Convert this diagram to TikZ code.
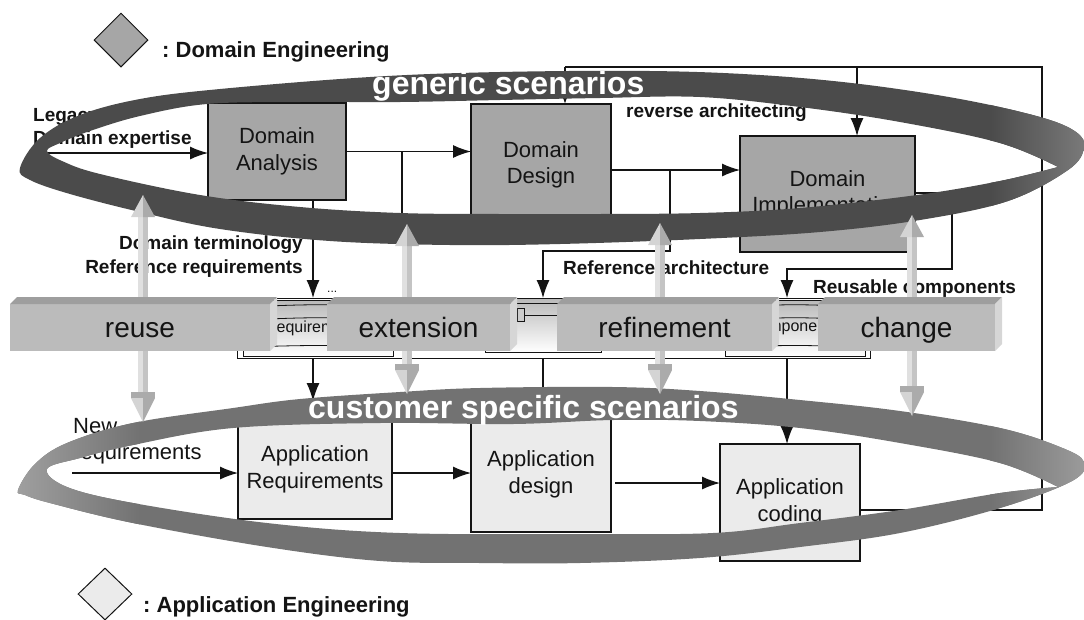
\documentclass[tikz,border=0pt]{standalone}
\usepackage{fontspec}
\setmainfont{Liberation Sans}
\frenchspacing
\usetikzlibrary{arrows.meta,shapes.geometric,calc}
\definecolor{domgray}{HTML}{A6A6A6}
\definecolor{appgray}{HTML}{EBEBEB}
\definecolor{ringA}{HTML}{4B4B4B}
\definecolor{ringAl}{HTML}{7A7A7A}
\definecolor{ringB}{HTML}{727272}
\definecolor{ringBl}{HTML}{A0A0A0}
\definecolor{barfr}{HTML}{BBBBBB}
\definecolor{bartp}{HTML}{9E9E9E}
\definecolor{barsd}{HTML}{D6D6D6}
\definecolor{shL}{HTML}{E0E0E0}
\definecolor{shR}{HTML}{C4C4C4}
\definecolor{hdL}{HTML}{D4D4D4}
\definecolor{hdR}{HTML}{ABABAB}
\definecolor{ink}{HTML}{141414}
\newcommand\grayarrow[3]{%
  \fill[shL] (#1-5,#2+20) rectangle (#1,#3-22);
  \fill[shR] (#1,#2+20) rectangle (#1+5,#3-22);
  \fill[hdL] (#1,#2) -- (#1-12,#2+22) -- (#1,#2+22) -- cycle;
  \fill[hdR] (#1,#2) -- (#1+12,#2+22) -- (#1,#2+22) -- cycle;
  \fill[hdR] (#1-12,#3-30) -- (#1+12,#3-30) -- (#1+12,#3-24) -- (#1-12,#3-24) -- cycle;
  \fill[hdL] (#1,#3) -- (#1-12,#3-24) -- (#1,#3-24) -- cycle;
  \fill[hdR] (#1,#3) -- (#1+12,#3-24) -- (#1,#3-24) -- cycle;
}
\newcommand\solidbar[4]{%
  \node[barfront, minimum width=#3pt] (#1) at (#2,327.5) {#4};
  \fill[bartp] (#1.north west) -- ++(7,-7) -- ($(#1.north east)+(7,-7)$) -- (#1.north east) -- cycle;
  \fill[barsd] (#1.north east) -- ++(7,-7) -- ++(0,47) -- (#1.south east) -- cycle;
}
\newcommand\ringApath{plot[smooth cycle, tension=0.6] coordinates {(20,168) (40,138) (80,115) (140,99) (220,89) (370,77) (500,72) (650,71) (760,75) (860,84) (960,99) (1040,117) (1076,132) (1084,148) (1068,170) (1008,201) (920,220) (820,232) (700,239) (560,244) (450,245) (330,241) (220,229) (140,212) (70,194) (30,180)}
  plot[smooth, tension=0.6] coordinates {(1058,167) (1000,143) (900,122) (800,107) (700,97) (600,98) (500,100) (400,102) (300,102) (207,104) (140,116) (90,131) (60,143) (47,151) (62,161) (100,174) (200,195) (300,207) (400,213) (500,214) (600,214) (700,213) (800,208) (917,195) (1000,181) (1058,167)} -- cycle}
\newcommand\ringBpath{plot[smooth cycle, tension=0.6] coordinates {(18,490) (35,464) (67,443) (133,423) (233,408) (300,399) (400,392) (480,388) (613,387) (700,391) (800,400) (900,411) (1000,428) (1060,447) (1084,462) (1072,481) (1000,508) (900,533) (800,547) (700,558) (580,563) (480,563) (380,561) (267,547) (133,523) (50,503) (25,495)}
  plot[smooth, tension=0.6] coordinates {(1058,487) (1000,463) (900,443) (800,428) (700,421) (613,420) (513,424) (380,423) (233,428) (133,445) (80,458) (47,469) (67,487) (133,503) (267,523) (400,533) (580,534) (713,533) (800,523) (900,510) (1000,493) (1058,487)} -- cycle}
\begin{document}
\begin{tikzpicture}[x=1pt,y=-1pt,
  box/.style={draw=ink, line width=1.2pt, inner sep=0pt, outer sep=0pt, align=center,
    text=ink, font=\fontsize{22}{26.5}\selectfont},
  dombox/.style={box, fill=domgray},
  appbox/.style={box, fill=appgray},
  conn/.style={line width=1.2pt, draw=ink},
  arr/.style={conn, -{Latex[length=18pt,width=13pt]}},
  smallarr/.style={conn, -{Latex[length=8pt,width=6pt]}},
  lbl/.style={inner sep=0pt, text=ink, font=\fontsize{19}{22}\selectfont\bfseries},
  reg/.style={inner sep=0pt, text=ink, font=\fontsize{22}{26}\selectfont},
  legtxt/.style={inner sep=0pt, text=ink, font=\fontsize{22}{26}\selectfont\bfseries},
  ringtxt/.style={inner sep=0pt, text=white, font=\fontsize{32}{34}\selectfont\bfseries},
  barfront/.style={fill=barfr, inner sep=0pt, outer sep=0pt, minimum height=47pt,
    text height=22pt, text depth=3pt, text=ink, font=\fontsize{28}{30}\selectfont},
  repoitem/.style={draw=ink, line width=0.8pt, top color=gray!55, bottom color=white,
    inner sep=0pt, outer sep=0pt, text=ink, font=\fontsize{16}{18}\selectfont},
  legdia/.style={diamond, draw=ink, line width=1pt, inner sep=0pt, minimum width=54pt, minimum height=54pt}
]
\useasboundingbox (0,0) rectangle (1084,619);

% legends
\node[legdia, fill=domgray] (leg1) at (121,40) {};
\node[legtxt, anchor=base west] (lt1) at (162,57) {: Domain Engineering};
\node[legdia, fill=appgray, minimum height=52pt] (leg2) at (105,594) {};
\node[legtxt, anchor=base west] (lt2) at (143,612) {: Application Engineering};

% repository (behind the bars)
\node[draw=ink, line width=1pt, fill=white, minimum width=633pt, minimum height=60pt, inner sep=0pt, outer sep=0pt] (repo) at (553.5,328) {};
\node[repoitem, minimum width=150pt, minimum height=56pt] (req) at (318,328) {requirements};
\draw[ink, line width=0.8pt] (243,307) .. controls (318,304) .. (393,307);
\draw[ink, line width=0.8pt] (243,320) .. controls (318,317) .. (393,320);
\draw[ink, line width=0.8pt] (243,347) .. controls (318,345) .. (393,347);
\node[repoitem, minimum width=116pt, minimum height=54pt] (arch) at (543,325) {};
\draw[ink, line width=0.8pt] (485,303) -- (601,303);
\draw[ink, line width=0.8pt, fill=gray!40] (517,308) rectangle (524,321);
\draw[ink, line width=1pt] (524,315) -- (600,315);
\node[repoitem, minimum width=140pt, minimum height=56pt] (comp) at (795,328) {components};
\draw[ink, line width=0.8pt] (725,307) .. controls (795,304) .. (865,307);
\draw[ink, line width=0.8pt] (725,320) .. controls (795,317) .. (865,320);
\draw[ink, line width=0.8pt] (725,347) .. controls (795,345) .. (865,347);
\node[anchor=base west, inner sep=0pt, text=ink, font=\fontsize{12}{12}\selectfont] (ldots) at (327,292) {...};

% boxes
\node[dombox, minimum width=138pt, minimum height=97pt] (da) at (277,151.5) {Domain\\Analysis};
\node[dombox, minimum width=140pt, minimum height=122pt] (dd) at (541,165) {Domain\\Design};
\node[dombox, minimum width=175pt, minimum height=116pt] (di) at (827.5,194) {Domain\\Implementation};
\node[appbox, minimum width=154pt, minimum height=99pt] (ar) at (315,469.5) {Application\\Requirements};
\node[appbox, minimum width=140pt, minimum height=115pt] (ad) at (541,474.5) {Application\\design};
\node[appbox, minimum width=140pt, minimum height=117pt] (ac) at (790,502.5) {Application\\coding};

% connectors
\coordinate (legin) at (45,153);
\draw[arr] (legin) -- (legin -| da.west);
\draw[arr] (da.east) -- (da.east -| dd.west);
\coordinate (b1) at (402,151.5);
\coordinate (b1e) at (402,228);
\draw[conn] (b1) -- (b1e);
\coordinate (b2) at (670,170);
\coordinate (b2c) at (670,251);
\draw[arr] (dd.east |- b2) -- (b2 -| di.west);
\draw[arr] (b2) -- (b2c) -| (arch.north);
\coordinate (dr1) at (952,193);
\coordinate (dr2) at (952,269);
\coordinate (ctop) at (787,298);
\draw[arr] (di.east |- dr1) -- (dr1) -- (dr2) -| (ctop);
\coordinate (fb1) at (1042,510);
\coordinate (fb2) at (1042,67);
\coordinate (fb3) at (565,67);
\coordinate (fbj) at (857,67);
\draw[conn] (ac.east |- fb1) -- (fb1) -- (fb2) -- (fb3);
\draw[smallarr] (fb3) -- (dd.north -| fb3);
\draw[arr] (fbj) -- (di.north -| fbj);
\coordinate (rq) at (313,401);
\draw[arr] (da.south -| rq) -- (repo.north -| rq);
\draw[arr] (repo.south -| rq) -- (rq);
\draw[arr] (repo.south -| arch.south) -- (arch.south |- ad.north);
\draw[arr] (repo.south -| ctop) -- (ctop |- ac.north);
\coordinate (newin) at (72,473);
\draw[arr] (newin) -- (newin -| ar.west);
\draw[arr] (ar.east |- newin) -- (newin -| ad.west);
\coordinate (adout) at (615,483);
\draw[arr] (adout) -- (adout -| ac.west);

% labels
\node[lbl, anchor=base west] (lleg) at (33,121) {Legacy};
\node[lbl, anchor=base west] (ldex) at (33,144) {Domain expertise};
\node[lbl, anchor=base east] (ldt) at (303,249) {Domain terminology};
\node[lbl, anchor=base east] (lrr) at (303,273) {Reference requirements};
\node[lbl, anchor=base west] (lra) at (563,274) {Reference architecture};
\node[lbl, anchor=base west] (lrc) at (813,293) {Reusable components};
\node[lbl, anchor=base west] (lrev) at (626,117) {reverse architecting};
\node[reg, anchor=base west] (lnew) at (73,433) {New};
\node[reg, anchor=base west] (lnr) at (73,459) {requirements};

% ribbons
\begin{scope}[even odd rule]
  \clip \ringApath;
  \fill[ringA] (0,60) rectangle (1084,250);
  \shade[left color=ringA, right color=ringAl] (990,100) rectangle (1086,240);
\end{scope}
\begin{scope}[even odd rule]
  \clip \ringBpath;
  \fill[ringB] (0,380) rectangle (1084,570);
  \shade[left color=ringBl, right color=ringB] (15,420) rectangle (140,540);
  \shade[left color=ringB, right color=ringBl!90!ringB] (990,420) rectangle (1086,540);
\end{scope}
\node[ringtxt, anchor=base west] (gs) at (372,94) {generic scenarios};
\node[ringtxt, anchor=base west] (cs) at (308,418) {customer specific scenarios};

% gray double arrows
\grayarrow{143}{195}{422}
\grayarrow{407}{224}{394}
\grayarrow{660}{223}{394}
\grayarrow{912}{215}{416}

% 3D bars
\solidbar{reuse}{140}{260}{reuse}
\solidbar{extension}{418.5}{183}{extension}
\solidbar{refinement}{664.5}{215}{refinement}
\solidbar{change}{906.5}{177}{change}
\end{tikzpicture}
\end{document}
